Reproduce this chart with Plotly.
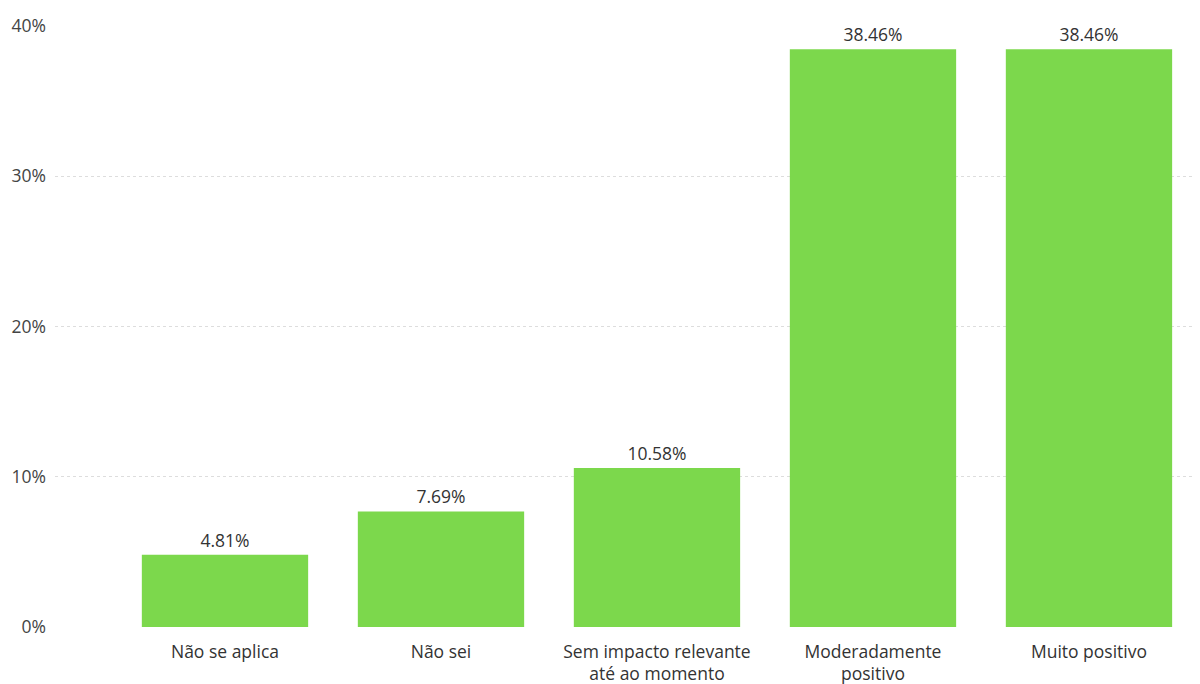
import plotly.graph_objects as go

categories = ["Não se aplica", "Não sei", "Sem impacto relevante<br>até ao momento", "Moderadamente<br>positivo", "Muito positivo"]
values = [4.81, 7.69, 10.58, 38.46, 38.46]
labels = ["4.81%", "7.69%", "10.58%", "38.46%", "38.46%"]
ytick_vals = [0, 10, 20, 30, 40]
ytick_text = ["0%", "10%", "20%", "30%", "40%"]

xpos = list(range(len(categories)))

fig = go.Figure(go.Bar(
    x=xpos, y=values, text=labels, textposition="outside",
    textfont=dict(size=17.5, color="#333333"),
    marker=dict(color="#7CD84C", line=dict(width=0)),
    width=0.77, cliponaxis=False,
))

fig.update_layout(
    width=1192, height=676,
    margin=dict(l=47, r=0, t=18, b=57),
    paper_bgcolor="white", plot_bgcolor="white",
    font=dict(family="Open Sans, Segoe UI, sans-serif", size=17.5, color="#333333"),
    showlegend=False,
    xaxis=dict(range=[-0.787, 4.514], tickvals=xpos, ticktext=categories,
               showgrid=False, zeroline=False, showline=False, ticks="",
               ticklabelstandoff=12,
               tickfont=dict(size=17.5, color="#333333")),
    yaxis=dict(range=[0, 40], tickvals=ytick_vals, ticktext=ytick_text,
               showgrid=True, gridcolor="#dddddd", griddash="dot", gridwidth=1,
               zeroline=False, showline=False, ticks="",
               ticklabelstandoff=8,
               tickfont=dict(size=17.5, color="#444444")),
)

fig.write_html("out.html")
